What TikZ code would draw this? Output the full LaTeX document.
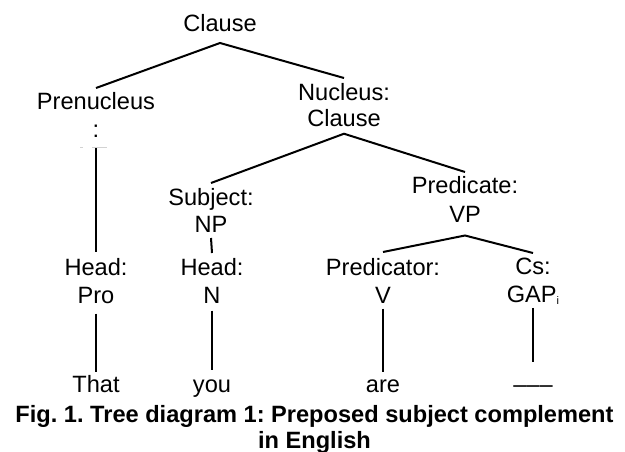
\documentclass[tikz,border=0pt]{standalone}
\usepackage{fontspec}
\setmainfont{Liberation Sans}
\frenchspacing
\begin{document}
\begin{tikzpicture}[x=1pt, y=-1pt,
  lab/.style={inner sep=0pt, align=center,
    font=\fontsize{23.6}{26}\selectfont},
  top/.style={lab, anchor=north},
  leaf/.style={lab, anchor=base},
  branch/.style={line width=2pt, line cap=butt},
  caption/.style={inner sep=0pt, align=center, anchor=north,
    font=\fontsize{23.6}{26}\selectfont\bfseries}]
\useasboundingbox (0,0) rectangle (625,452);

% category / function labels
\node[leaf] (clause) at (220,32) {Clause};
\node[top] (pre)     at (96,92)   {Prenucleus\\[2pt]:};
\node[top] (nuc)     at (344,83)  {Nucleus:\\Clause};
\node[top] (subj)    at (211,188) {Subject:\\[1.5pt]NP};
\node[top] (pred)    at (465,176) {Predicate:\\[3pt]VP};
\node[top] (headpro) at (96,258)  {Head:\\[2pt]Pro};
\node[top] (headn)   at (212,258) {Head:\\[2pt]N};
\node[top] (predr)   at (383,258) {Predicator:\\[2pt]V};
\node[top] (cs)      at (533,258) {Cs:\\[2pt]GAP\raisebox{-2pt}{\fontsize{11}{11}\selectfont i}};

% words
\node[leaf] (that) at (96,392)  {That};
\node[leaf] (you)  at (212,392) {you};
\node[leaf] (are)  at (383,392) {are};
\node[leaf] (gap)  at (533,392) {–––};

% branches
\draw[branch] ([yshift=4pt]pre.north) -- ([yshift=-11pt]clause.base) -- ([yshift=5pt]nuc.north);
\draw[branch] ([yshift=-10pt]pre.south) -- ([yshift=6pt]headpro.north);
\draw[branch] ([yshift=5pt]subj.north) -- ([yshift=-7pt]nuc.south) -- ([yshift=4pt]pred.north);
\draw[branch] ([yshift=-5pt]subj.south) -- ([yshift=5pt]headn.north);
\draw[branch] ([yshift=6pt]predr.north) -- ([yshift=-13pt]pred.south) -- ([yshift=5pt]cs.north);
\draw[branch] ([yshift=-10pt]headpro.south) -- ([yshift=20pt]that.base);
\draw[branch] ([yshift=-7pt]headn.south) -- ([yshift=22pt]you.base);
\draw[branch] ([yshift=-5pt]predr.south) -- ([yshift=20pt]are.base);
\draw[branch] ([yshift=-3pt]cs.south) -- ([yshift=30pt]gap.base);

% faint rule under the prenucleus colon
\draw[gray!35, line width=0.6pt] (80,147) -- (83,147) (92,147) -- (107,147);

% caption
\node[caption] (cap) at (314.5,405)
  {Fig. 1. Tree diagram 1: Preposed subject complement\\in English};
\end{tikzpicture}
\end{document}
